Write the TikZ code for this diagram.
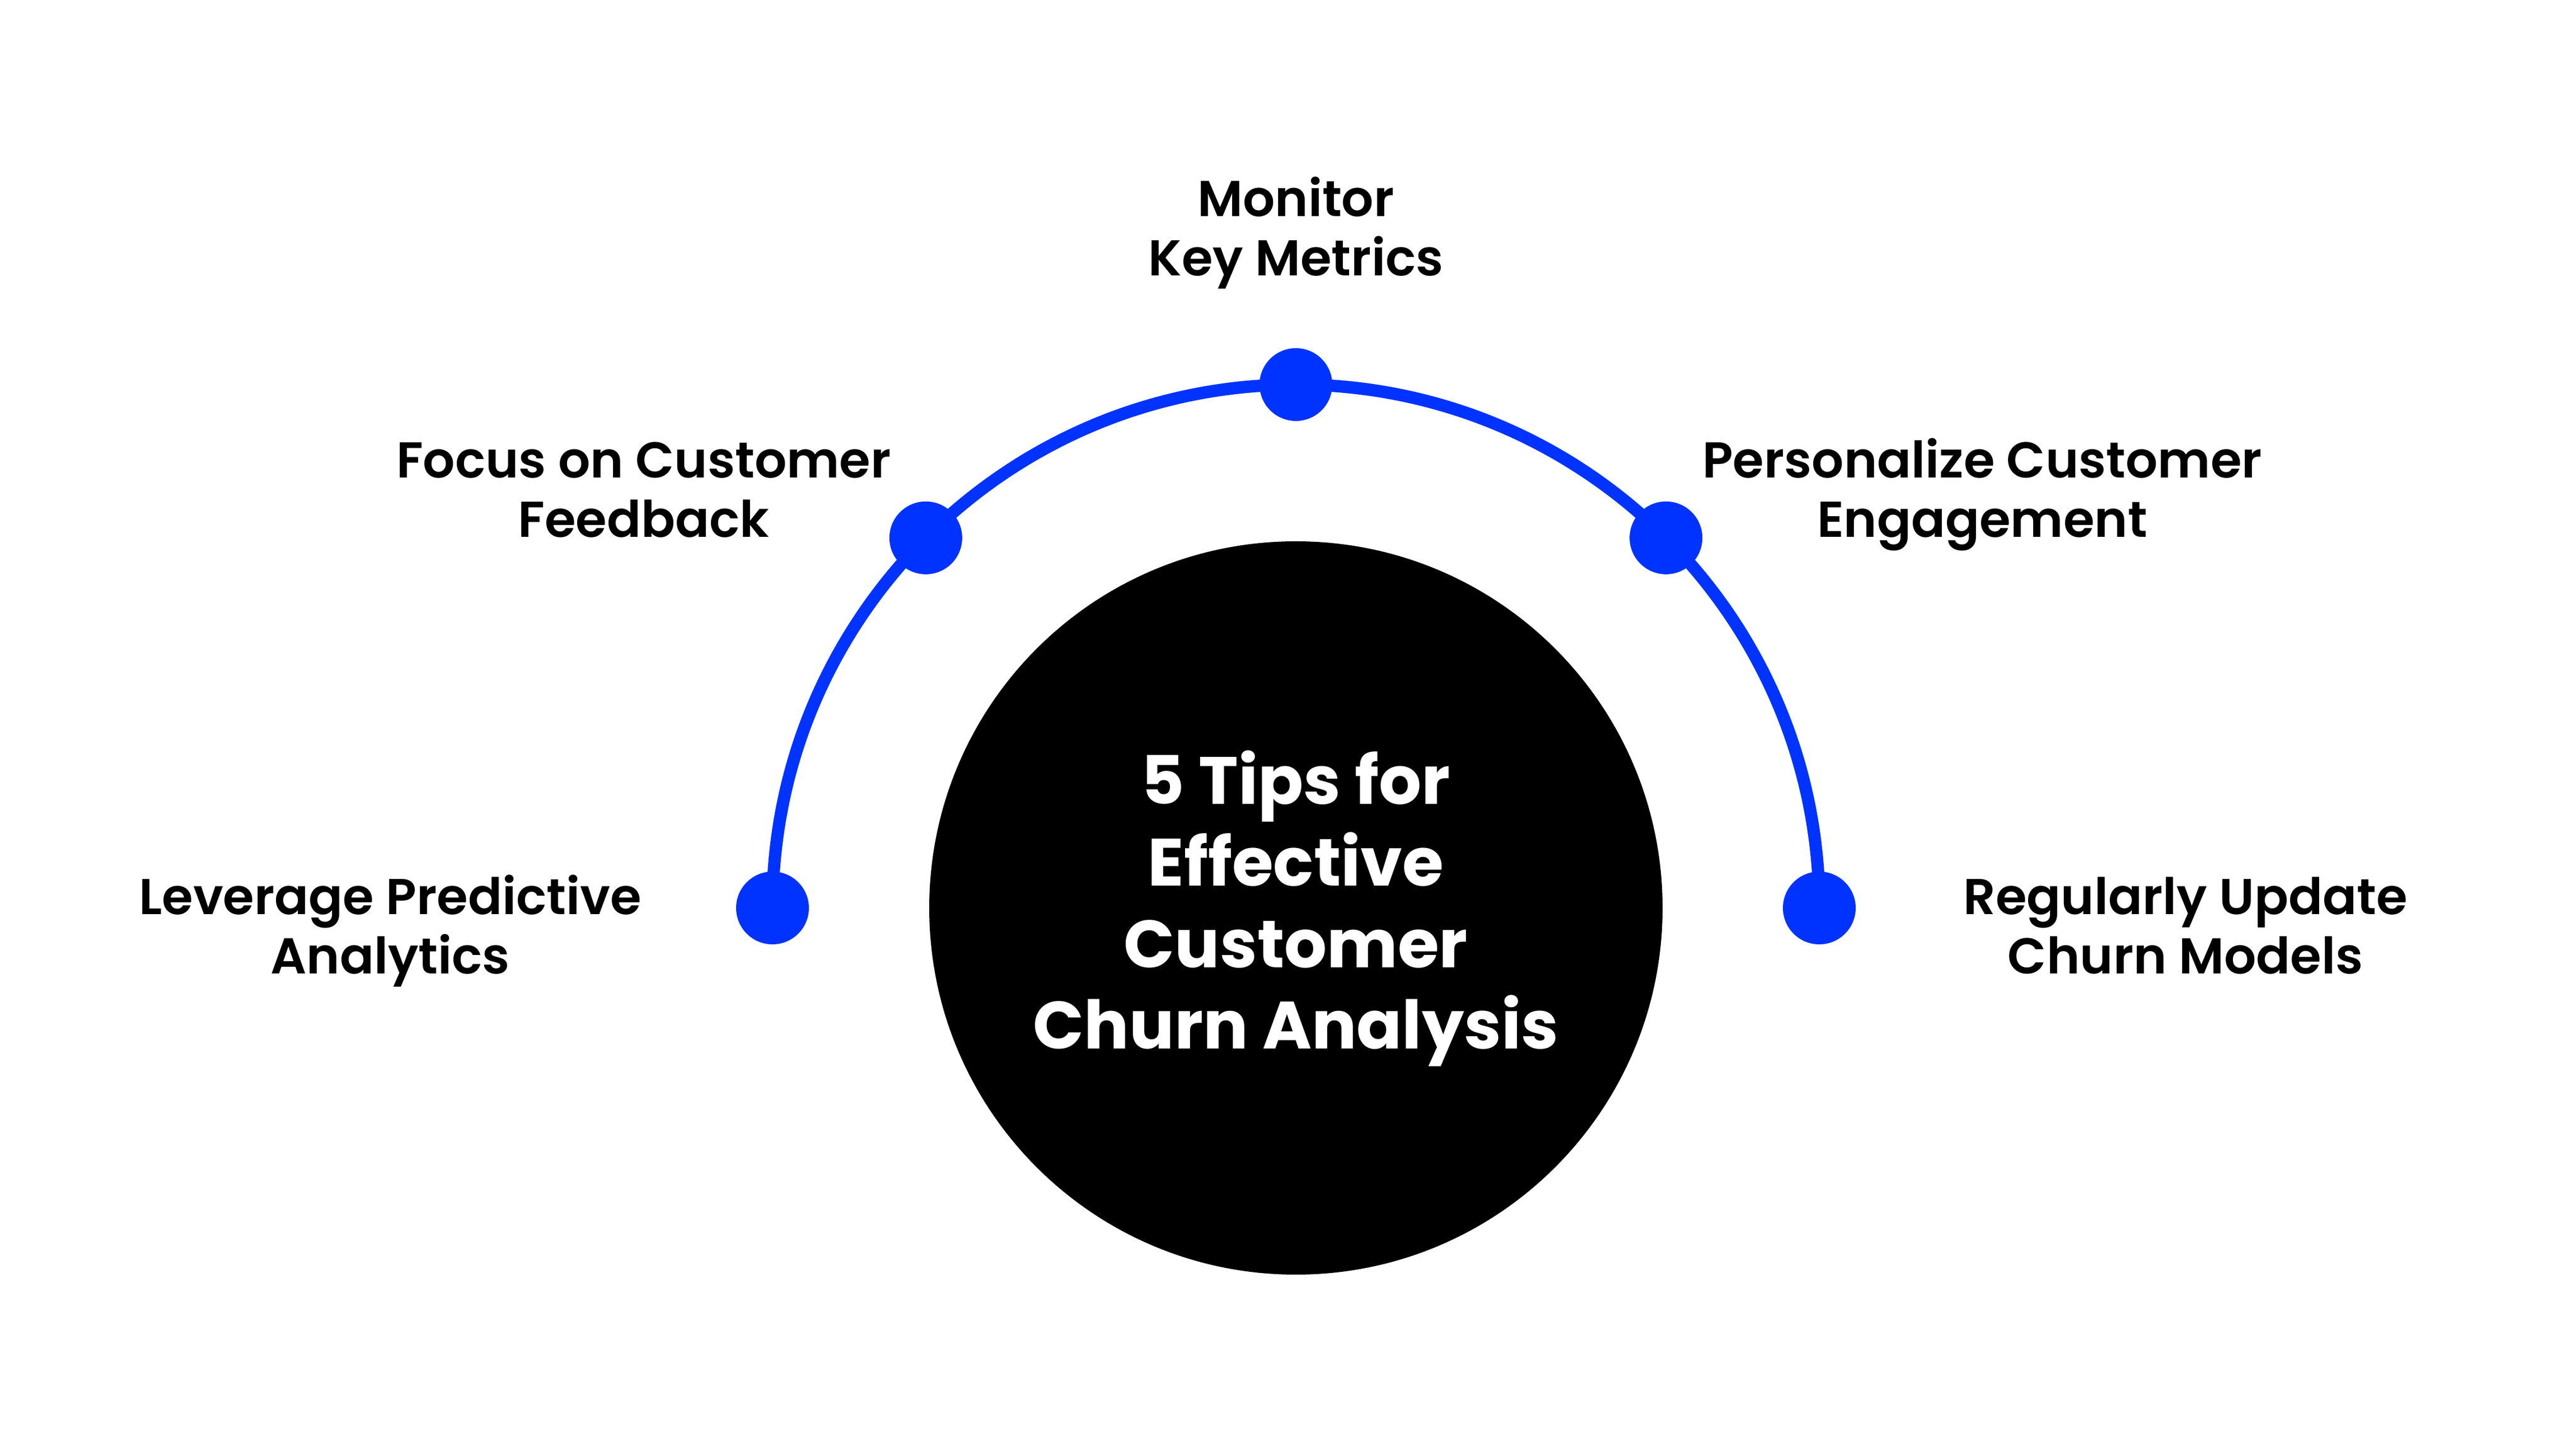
\documentclass[tikz,border=0pt]{standalone}
\usepackage{fontspec}
\setmainfont{Poppins}
\newfontfamily\semibold{Poppins SemiBold}
\usetikzlibrary{calc}
\definecolor{tipblue}{RGB}{0,51,255}
\begin{document}
\begin{tikzpicture}[hub/.style = {circle, fill=black, minimum size=13.1cm, inner sep=0pt},
  dot/.style = {circle, fill=tipblue, minimum size=1.3cm, inner sep=0pt},
  tip/.style = {align=center, anchor=base, font=\semibold\fontsize{25.6}{30.4}\selectfont},
  title/.style = {align=center, anchor=base, text=white, font=\bfseries\fontsize{34}{41.5}\selectfont}]
\useasboundingbox (0,0) rectangle (46,26);
\node[hub] (hub) at (23.15,9.78) {};
\node[title] (head) at (23.15,7.26) {5 Tips for\\Effective\\Customer\\Churn Analysis};
\draw[tipblue, line width=0.22cm] (hub.center) ++(180:9.35) arc[start angle=180, end angle=0, radius=9.35];
\node[dot] (1) at ($(hub)+(180:9.35)$) {};
\node[dot] (2) at ($(hub)+(135:9.35)$) {};
\node[dot] (3) at ($(hub)+(90:9.35)$) {};
\node[dot] (4) at ($(hub)+(45:9.35)$) {};
\node[dot] (5) at ($(hub)+(0:9.35)$) {};
\node[tip] (lev) at (6.97,8.60) {Leverage Predictive\\Analytics};
\node[tip] (foc) at (11.50,16.40) {Focus on Customer\\Feedback};
\node[tip] (mon) at (23.15,21.07) {Monitor\\Key Metrics};
\node[tip] (per) at (35.41,16.40) {Personalize Customer\\Engagement};
\node[tip] (reg) at (39.04,8.60) {Regularly Update\\Churn Models};
\end{tikzpicture}
\end{document}
